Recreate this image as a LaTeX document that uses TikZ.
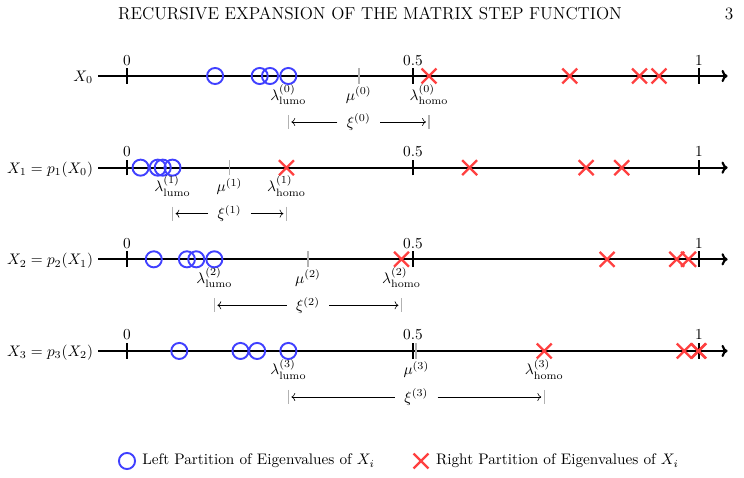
\documentclass[tikz,border=0pt]{standalone}
\usepackage{amsmath}
\usepackage{tikz}
\usetikzlibrary{arrows.meta,positioning,shapes.misc}

\begin{document}
\begin{tikzpicture}[
  >=To,
  axisline/.style={-{To[length=4pt,width=8pt]}, line width=1.4pt},
  tick/.style={line width=1.2pt},
  mutick/.style={line width=1.2pt, draw=gray!60},
  lchip/.style={circle, draw=blue!75, line width=1.25pt, minimum size=0.37cm, inner sep=0pt},
  rchip/.style={cross out, draw=red!75, line width=1.5pt, minimum size=0.29cm, inner sep=0pt},
  numlabel/.style={anchor=base, inner sep=0pt},
  eiglabel/.style={anchor=base, inner sep=0pt},
  rowlabel/.style={anchor=base east},
  xibar/.style={draw=gray!60, line width=1pt},
  xiarr/.style={->, line width=0.4pt, shorten >=2pt},
  xilabel/.style={inner xsep=6pt, inner ysep=1pt},
  legend/.style={anchor=west}
]
  \useasboundingbox (0,0) rectangle (17.112,-10.971);

  % --- Running head ---
  \node[anchor=base, font=\fontsize{11.3}{13.5}\selectfont] (title) at (8.51,-0.444)
       {RECURSIVE EXPANSION OF THE MATRIX STEP FUNCTION};
  \node[anchor=base east, font=\fontsize{11.3}{13.5}\selectfont] (pageno) at (16.99,-0.444) {3};

  % --- Four eigenvalue axes (X_0 ... X_3) ---
  \foreach \k/\lab/\lefts/\rights/\lumo/\homo in {
      0/{X_0}/{0.154,0.232,0.250}/{0.774,0.896,0.930}/0.282/0.528,
      1/{X_1 = p_1(X_0)}/{0.0237,0.0538,0.0625}/{0.5991,0.8028,0.8649}/0.0795/0.2788,
      2/{X_2 = p_2(X_1)}/{0.0468,0.1047,0.1211}/{0.8393,0.9611,0.9817}/0.1527/0.4799,
      3/{X_3 = p_3(X_2)}/{0.0914,0.1984,0.2275}/{0.9742,0.9985,0.9997}/0.2821/0.7295}{
    \pgfmathsetmacro{\yrow}{-1.748-2.108*\k}
    \pgfmathsetmacro{\muval}{(\lumo+\homo)/2}
    \begin{scope}[shift={(2.921,\yrow)}, x=13.156cm]
      \draw[axisline] (-0.05,0) coordinate (start\k) -- (1.05,0);
      \node[rowlabel] at ([yshift=-0.127cm]start\k) {$\lab$};
      \foreach \v in {0,0.5,1}{
        \draw[tick] (\v,-0.18) -- (\v,0.18);
        \node[numlabel] at (\v,0.253) {\v};
      }
      \coordinate (mu\k) at (\muval,0);
      \draw[mutick] ([yshift=-0.18cm]mu\k) -- ([yshift=0.18cm]mu\k);
      % eigenvalue markers
      \foreach \v in \lefts { \node[lchip] at (\v,0) {}; }
      \node[lchip] (lumo\k) at (\lumo,0) {};
      \foreach \v in \rights { \node[rchip] at (\v,0) {}; }
      \node[rchip] (homo\k) at (\homo,0) {};
      % labels under the axis
      \node[eiglabel] at ([yshift=-0.552cm]lumo\k.center) {$\lambda^{(\k)}_{\mathrm{lumo}}$};
      \node[eiglabel] at ([yshift=-0.552cm]mu\k) {$\mu^{(\k)}$};
      \node[eiglabel] at ([yshift=-0.552cm]homo\k.center) {$\lambda^{(\k)}_{\mathrm{homo}}$};
      % gap xi
      \draw[xibar] ([yshift=-0.897cm]lumo\k.center) -- ([yshift=-1.219cm]lumo\k.center);
      \draw[xibar] ([yshift=-0.897cm]homo\k.center) -- ([yshift=-1.219cm]homo\k.center);
      \node[xilabel] (xi\k) at ([yshift=-1.058cm]mu\k) {$\xi^{(\k)}$};
      \draw[xiarr] (xi\k.west) -- ([yshift=-1.058cm]lumo\k.center);
      \draw[xiarr] (xi\k.east) -- ([yshift=-1.058cm]homo\k.center);
    \end{scope}
  }

  % --- Legend ---
  \node[lchip] (legl) at (2.921,-10.603) {};
  \node[legend, right=0.02cm of legl] (legltext) {Left Partition of Eigenvalues of $X_i$};
  \node[rchip] (legr) at (9.683,-10.603) {};
  \node[legend, right=0.05cm of legr] (legrtext) {Right Partition of Eigenvalues of $X_i$};
\end{tikzpicture}
\end{document}
